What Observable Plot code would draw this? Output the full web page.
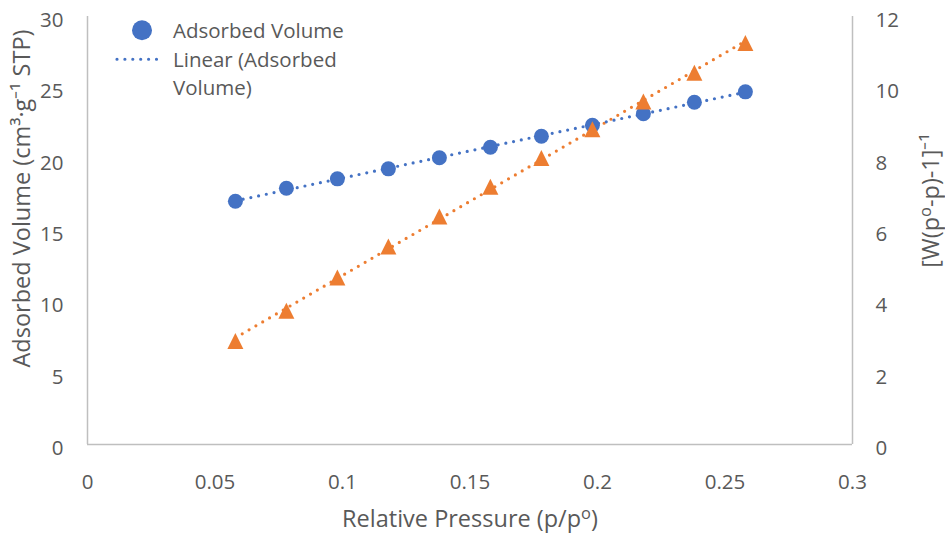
<!DOCTYPE html>
<html>
<head>
<meta charset="utf-8">
<script src="https://cdn.jsdelivr.net/npm/d3@7"></script>
<script src="https://cdn.jsdelivr.net/npm/@observablehq/plot@0.6"></script>
<style>
  html, body { margin: 0; padding: 0; background: #ffffff; }
  #wrap { position: relative; width: 945px; height: 533px; font-family: "Open Sans", sans-serif; }
  #legend { position: absolute; left: 110px; top: 16px; color: #595959; font-size: 20.5px;
            display: grid; grid-template-columns: 63px auto; grid-auto-rows: 28.5px; align-items: center; line-height: 28.5px; }
  #legend svg { display: block; }
</style>
</head>
<body>
<div id="wrap"></div>
<script>
// Relative pressure p/p°
const pressure = [0.058, 0.078, 0.098, 0.118, 0.138, 0.158, 0.178, 0.198, 0.218, 0.238, 0.258];
// Adsorbed volume (cm3/g STP) – left axis
const adsorbed = [17.05, 17.96, 18.62, 19.32, 20.10, 20.84, 21.61, 22.38, 23.18, 23.99, 24.72];
// BET term [W(p°/p - 1)]^-1 – right axis
const bet = [2.90, 3.75, 4.68, 5.55, 6.39, 7.23, 8.03, 8.84, 9.62, 10.42, 11.26];

const xTicks = [0, 0.05, 0.1, 0.15, 0.2, 0.25, 0.3];
const leftTicks = [0, 5, 10, 15, 20, 25, 30];
const rightTicks = [0, 2, 4, 6, 8, 10, 12];
const leftMax = 30, rightMax = 12;
const ratio = leftMax / rightMax;

const xTitle = "Relative Pressure (p/pᵒ)";
const yLeftTitle = "Adsorbed Volume (cm³·g⁻¹ STP)";
const yRightTitle = "[W(pᵒ-p)-1]⁻¹";

const blue = "#4472C4", orange = "#ED7D31", grey = "#BFBFBF", txt = "#595959";

const blueData = pressure.map((p, i) => ({p, v: adsorbed[i]}));
const orangeData = pressure.map((p, i) => ({p, w: bet[i]}));

// Excel-style triangle marker: equal width and height, centred on its bounding box
const excelTriangle = {
  draw(context, size) {
    const h = Math.sqrt(size / Math.PI);
    context.moveTo(0, -h);
    context.lineTo(h, h);
    context.lineTo(-h, h);
    context.closePath();
  }
};

const dotted = {strokeWidth: 3.2, strokeDasharray: "0 7.9", strokeLinecap: "round", ci: 0};
const titleFont = {fontSize: 23.5, fill: txt, lineAnchor: "middle", textAnchor: "middle"};

const chart = Plot.plot({
  width: 945, height: 533,
  marginLeft: 87, marginRight: 93, marginTop: 16, marginBottom: 89,
  x: {domain: [0, 0.3]},
  y: {domain: [0, leftMax]},
  style: {fontFamily: "Open Sans", fontSize: "20.5px", color: txt, background: "white", overflow: "visible"},
  marks: [
    Plot.ruleY([0], {stroke: grey, strokeWidth: 1.5}),
    Plot.ruleX([0, 0.3], {stroke: grey, strokeWidth: 1.5}),
    Plot.axisY({anchor: "left", ticks: leftTicks, tickSize: 0, tickPadding: 24, label: null, dy: 4, fill: txt}),
    Plot.axisY({anchor: "right", ticks: rightTicks.map(t => t * ratio), tickFormat: d => String(Math.round(d / ratio)),
                textAnchor: "start", tickSize: 0, tickPadding: 23, label: null, dy: 4, fill: txt}),
    Plot.axisX({ticks: xTicks, tickSize: 0, tickPadding: 30, label: null, fill: txt, tickFormat: d => String(d)}),
    Plot.linearRegressionY(orangeData, {x: "p", y: d => d.w * ratio, ...dotted, stroke: orange}),
    Plot.linearRegressionY(blueData, {x: "p", y: "v", ...dotted, stroke: blue}),
    Plot.dot(blueData, {x: "p", y: "v", r: 7.5, fill: blue, symbol: "circle"}),
    Plot.dot(orangeData, {x: "p", y: d => d.w * ratio, r: 8, fill: orange, symbol: excelTriangle}),
    Plot.text([xTitle], {frameAnchor: "bottom", dy: 74.5, ...titleFont}),
    Plot.text([yLeftTitle], {frameAnchor: "left", rotate: -90, dx: -65, dy: -32, ...titleFont}),
    Plot.text([yRightTitle], {frameAnchor: "right", rotate: -90, dx: 79, dy: -30, ...titleFont})
  ]
});

// Render the superscript "o" as a raised, smaller letter o
d3.select(chart).selectAll("text").each(function () {
  const t = this.textContent;
  if (this.childElementCount === 0 && t.includes("ᵒ")) {
    const [before, after] = t.split("ᵒ");
    const sel = d3.select(this);
    sel.text(null);
    sel.append("tspan").text(before);
    sel.append("tspan").attr("dy", -8).attr("font-size", "0.7em").text("o");
    sel.append("tspan").attr("dy", 8).text(after);
  }
});

const wrap = document.getElementById("wrap");
wrap.appendChild(chart);

const legend = document.createElement("div");
legend.id = "legend";
legend.innerHTML = `
  <svg width="63" height="28.5"><circle cx="32" cy="14.25" r="10" fill="${blue}"/></svg>
  <div>Adsorbed Volume</div>
  <svg width="63" height="28.5"><line x1="7" x2="51" y1="14.25" y2="14.25" stroke="${blue}" stroke-width="3.2" stroke-dasharray="0 7.9" stroke-linecap="round"/></svg>
  <div>Linear (Adsorbed</div>
  <div></div>
  <div>Volume)</div>`;
wrap.appendChild(legend);
</script>
</body>
</html>
